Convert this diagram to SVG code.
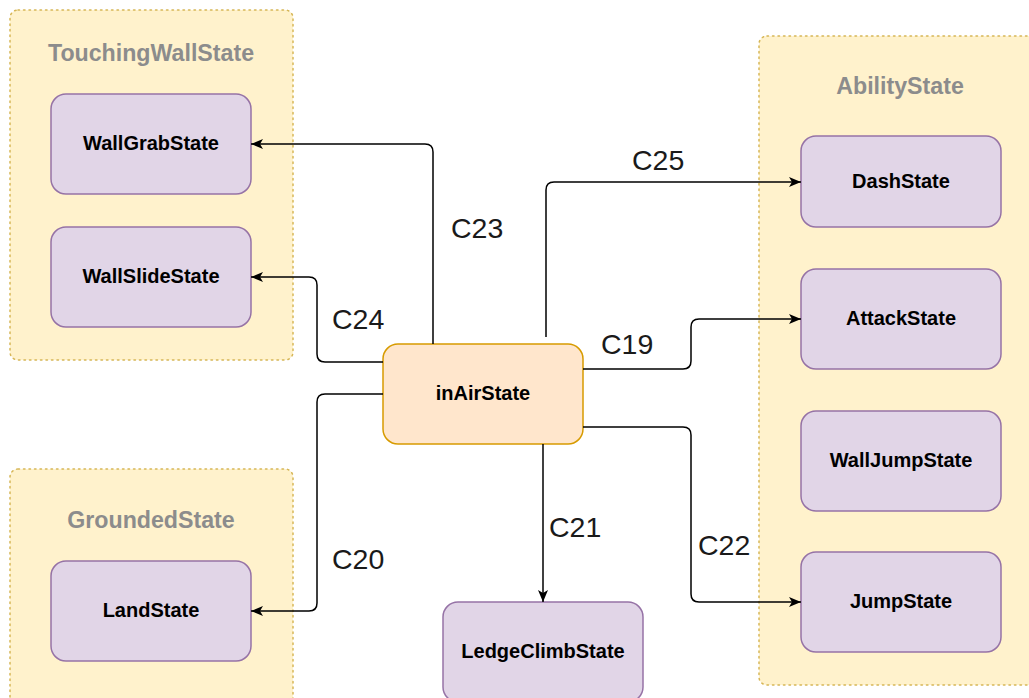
<svg xmlns="http://www.w3.org/2000/svg" width="1029" height="698" viewBox="0 0 1029 698">
<defs>
<style>
.cont{fill:#fff2cc;stroke:#d6b656;stroke-width:1.5;stroke-dasharray:1.5 4;stroke-linecap:round}
.ctitle{font-family:"Liberation Sans",Arial,sans-serif;font-weight:bold;font-size:23.2px;fill:#8c8c8c;text-anchor:middle}
.st{fill:#e1d5e7;stroke:#9673a6;stroke-width:1.5}
.air{fill:#ffe6cc;stroke:#d79b00;stroke-width:1.5}
.nt{font-family:"Liberation Sans",Arial,sans-serif;font-weight:bold;font-size:20px;fill:#000;text-anchor:middle}
.edge{fill:none;stroke:#000;stroke-width:1.5}
.el{font-family:"Liberation Sans",Arial,sans-serif;font-size:28.5px;fill:#1a1a1a}
</style>
<marker id="arr" markerUnits="userSpaceOnUse" markerWidth="14" markerHeight="12" refX="12" refY="5" orient="auto">
<path d="M0,0 L12,5 L0,10 L3,5 Z" fill="#000"/>
</marker>
</defs>
<rect width="1029" height="698" fill="#ffffff"/>

<g id="TouchingWallState">
<rect class="cont" x="10" y="10" width="283" height="350" rx="8"/>
<text class="ctitle" x="151" y="61">TouchingWallState</text>
</g>
<g id="GroundedState">
<rect class="cont" x="10" y="469" width="283" height="250" rx="8"/>
<text class="ctitle" x="151" y="528">GroundedState</text>
</g>
<g id="AbilityState">
<rect class="cont" x="759" y="36" width="290" height="649" rx="8"/>
<text class="ctitle" x="900" y="94">AbilityState</text>
</g>

<g id="WallGrabState">
<rect class="st" x="51" y="94" width="200" height="100" rx="15"/>
<text class="nt" x="151" y="150">WallGrabState</text>
</g>
<g id="WallSlideState">
<rect class="st" x="51" y="227" width="200" height="100" rx="15"/>
<text class="nt" x="151" y="283">WallSlideState</text>
</g>
<g id="LandState">
<rect class="st" x="51" y="561" width="200" height="100" rx="15"/>
<text class="nt" x="151" y="617">LandState</text>
</g>
<g id="inAirState">
<rect class="air" x="383" y="344" width="200" height="100" rx="15"/>
<text class="nt" x="483" y="400">inAirState</text>
</g>
<g id="LedgeClimbState">
<rect class="st" x="443" y="602" width="200" height="100" rx="15"/>
<text class="nt" x="543" y="658">LedgeClimbState</text>
</g>
<g id="DashState">
<rect class="st" x="801" y="136" width="200" height="91" rx="15"/>
<text class="nt" x="901" y="188">DashState</text>
</g>
<g id="AttackState">
<rect class="st" x="801" y="269" width="200" height="100" rx="15"/>
<text class="nt" x="901" y="325">AttackState</text>
</g>
<g id="WallJumpState">
<rect class="st" x="801" y="411" width="200" height="100" rx="15"/>
<text class="nt" x="901" y="467">WallJumpState</text>
</g>
<g id="JumpState">
<rect class="st" x="801" y="552" width="200" height="100" rx="15"/>
<text class="nt" x="901" y="608">JumpState</text>
</g>

<g id="connectors">
<path class="edge" marker-end="url(#arr)" d="M433,344 L433,152 Q433,144 425,144 L251,144"/>
<path class="edge" marker-end="url(#arr)" d="M383,362 L325,362 Q317,362 317,354 L317,285 Q317,277 309,277 L251,277"/>
<path class="edge" marker-end="url(#arr)" d="M383,394 L325,394 Q317,394 317,402 L317,603 Q317,611 309,611 L251,611"/>
<path class="edge" marker-end="url(#arr)" d="M546,337 L546,190 Q546,182 554,182 L801,182"/>
<path class="edge" marker-end="url(#arr)" d="M583,369 L683,369 Q691,369 691,361 L691,327 Q691,319 699,319 L801,319"/>
<path class="edge" marker-end="url(#arr)" d="M583,427 L683,427 Q691,427 691,435 L691,594 Q691,602 699,602 L801,602"/>
<path class="edge" marker-end="url(#arr)" d="M543,444 L543,602"/>
<text class="el" x="632" y="170">C25</text>
<text class="el" x="451" y="238">C23</text>
<text class="el" x="332" y="329">C24</text>
<text class="el" x="601" y="354">C19</text>
<text class="el" x="549" y="537">C21</text>
<text class="el" x="698" y="555">C22</text>
<text class="el" x="332" y="569">C20</text>
</g>
</svg>
